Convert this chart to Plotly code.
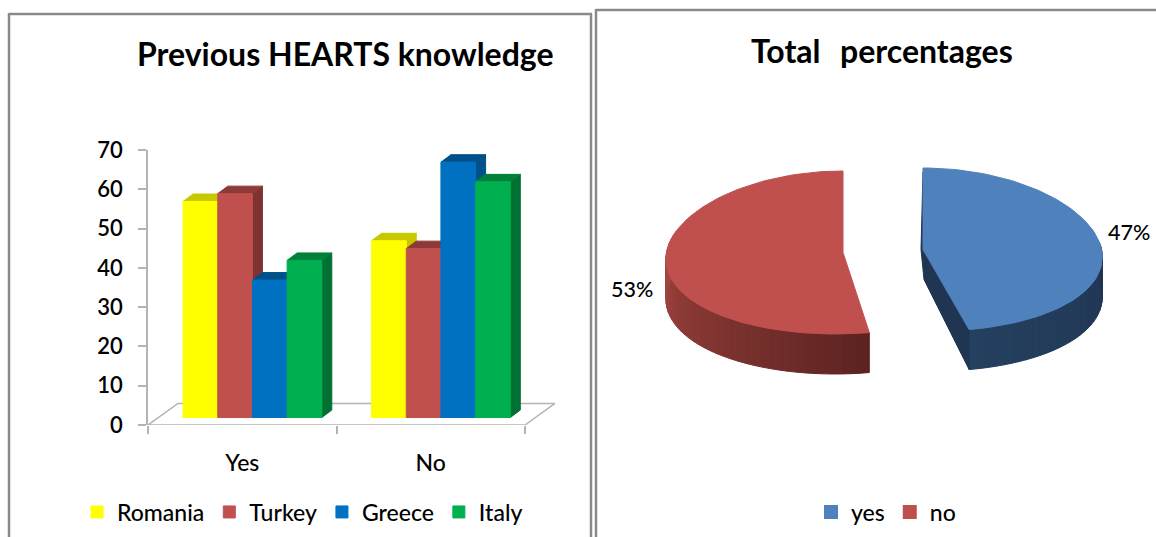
import math
import plotly.graph_objects as go

# Chart data
CATEGORIES = ["Yes", "No"]
COUNTRIES = ["Romania", "Turkey", "Greece", "Italy"]
ROMANIA = [55, 45]
TURKEY = [57, 43]
GREECE = [35, 65]
ITALY = [40, 60]
PIE_LABELS = ["yes", "no"]
PIE_SHARES = [47, 53]
Y_TICKS = [0, 10, 20, 30, 40, 50, 60, 70]

# Colours of each country: front, top, side
FRONT = ["#FFFF00", "#C0504D", "#0070C0", "#00B050"]
TOP = ["#C8C800", "#8C3A38", "#00508A", "#008038"]
SIDE = ["#C8C800", "#7F3230", "#00508A", "#007033"]
SERIES = [ROMANIA, TURKEY, GREECE, ITALY]

FONT = "Lato"
GREY = "#B4B4B4"
FRAME = "#8A8A8A"
W, H = 1156, 537

# Oblique projection of the bar chart, in axis units
BAR_W = 0.184
LIFT = 1.9          # bars stand this far above the front floor edge
SHIFT = 0.054       # and this far to the right
DEPTH_X = 0.053
DEPTH_Y = 1.9
FLOOR_X = 0.159
FLOOR_Y = 5.5
X_MAX = 2.2         # room for the back corner of the floor
PX_PER_GROUP = 188.5

fig = go.Figure()


def poly(xs, ys, color, xaxis="x", yaxis="y", line=None, width=1):
    fig.add_trace(go.Scatter(
        x=list(xs) + [xs[0]], y=list(ys) + [ys[0]], mode="lines", fill="toself",
        fillcolor=color, line=dict(color=line or color, width=width),
        xaxis=xaxis, yaxis=yaxis, showlegend=False, hoverinfo="skip",
        cliponaxis=False,
    ))


# Floor of the bar chart
poly([0, 2, 2 + FLOOR_X, FLOOR_X], [0, 0, FLOOR_Y, FLOOR_Y], "#FFFFFF", line=GREY, width=1.5)

# Top and side faces, painted left to right; the fronts sit on an overlaying axis
for g in range(len(CATEGORIES)):
    for s, values in enumerate(SERIES):
        left = g + 0.5 + SHIFT + (s - 2) * BAR_W
        right = left + BAR_W
        top = values[g] + LIFT
        poly([right, right + DEPTH_X, right + DEPTH_X, right],
             [LIFT, LIFT + DEPTH_Y, top + DEPTH_Y, top], SIDE[s])
        poly([left, left + DEPTH_X, right + DEPTH_X, right],
             [top, top + DEPTH_Y, top + DEPTH_Y, top], TOP[s])

for s, name in enumerate(COUNTRIES):
    fig.add_trace(go.Bar(
        x=[g + 0.5 for g in range(len(CATEGORIES))], y=SERIES[s], base=LIFT,
        width=BAR_W, offset=SHIFT + (s - 2) * BAR_W, name=name,
        marker=dict(color=FRONT[s], line=dict(width=1, color=FRONT[s])),
        xaxis="x", yaxis="y3", legend="legend",
    ))

# Tilted pie: coordinates are pixels from the left of its panel and from the top
PANEL_LEFT = 597
PIE_A = 172.5
PIE_B = 81.5
PERSPECTIVE = 0.06
PIE_DEPTH = 40
SLICE_CENTRES = [(923 - PANEL_LEFT, 249.5), (843 - PANEL_LEFT, 252.5)]
SLICE_LEAN = [12, -8]


def rim(theta, slice_i, drop=0):
    t = math.radians(theta)
    cx, cy = SLICE_CENTRES[slice_i]
    x = cx + PIE_A * math.sin(t) * (1 - PERSPECTIVE * math.cos(t))
    x += SLICE_LEAN[slice_i] * (1 - math.cos(t)) / 2
    return x, cy - PIE_B * math.cos(t) + drop


def mix(c1, c2, t):
    a = [int(c1[i:i + 2], 16) for i in (1, 3, 5)]
    b = [int(c2[i:i + 2], 16) for i in (1, 3, 5)]
    return "#" + "".join(f"{round(p + (q - p) * t):02X}" for p, q in zip(a, b))


def wall(slice_i, start, end, c1, c2, steps=30):
    for k in range(steps):
        a0 = start + (end - start) * k / steps
        a1 = start + (end - start) * (k + 1) / steps
        p0, p1 = rim(a0, slice_i), rim(a1, slice_i)
        q0, q1 = rim(a0, slice_i, PIE_DEPTH), rim(a1, slice_i, PIE_DEPTH)
        poly([p0[0], p1[0], q1[0], q0[0]], [p0[1], p1[1], q1[1], q0[1]],
             mix(c1, c2, k / steps), "x2", "y2")


split = 360 * PIE_SHARES[0] / sum(PIE_SHARES)

# Slice "yes": outer wall, inner wall, then its top
wall(0, split, 85, "#24405F", "#1F3552")
cx0, cy0 = SLICE_CENTRES[0]
vt = rim(split, 0)
vb = rim(split, 0, PIE_DEPTH)
poly([cx0, cx0 - 2, cx0 + 1, vb[0], vt[0]],
     [cy0 - PIE_B + 4, cy0, cy0 + 30, vb[1], vt[1]], "#1F3552", "x2", "y2")
arc = [rim(split * k / 80, 0) for k in range(81)]
poly([cx0] + [p[0] for p in arc], [cy0] + [p[1] for p in arc], "#4F81BD", "x2", "y2")

# Slice "no": shaded outer wall, then its top
wall(1, split, 285, "#5C2321", "#AC4A44", steps=40)
cx1, cy1 = SLICE_CENTRES[1]
arc = [rim(split + (360 - split) * k / 90, 1) for k in range(91)]
poly([cx1] + [p[0] for p in arc], [cy1] + [p[1] for p in arc], "#C0504D", "x2", "y2")

for name, color in zip(PIE_LABELS, ["#4F81BD", "#C0504D"]):
    fig.add_trace(go.Bar(x=[None], y=[None], name=name,
                         marker=dict(color=color, line=dict(width=2, color=color)),
                         xaxis="x2", yaxis="y2", legend="legend2"))

y_tick_font = dict(family=FONT, size=22, color="#000000", weight=600)
x_tick_font = dict(family=FONT, size=23, color="#000000", weight=500)
legend_font = dict(family=FONT, size=23, color="#000000", weight=500)
title_font = dict(family=FONT, size=32, color="#000000", weight=700)
share_font = dict(family=FONT, size=21.5, color="#000000", weight=500)

fig.update_layout(
    width=W, height=H, autosize=False,
    margin=dict(l=0, r=0, t=0, b=0, autoexpand=False),
    paper_bgcolor="#FFFFFF", plot_bgcolor="rgba(0,0,0,0)",
    barmode="overlay",
    font=dict(family=FONT, color="#000000"),
    xaxis=dict(
        domain=[148 / W, (148 + PX_PER_GROUP * X_MAX) / W], range=[0, X_MAX], anchor="y",
        tickmode="array", tickvals=[g + 0.5 for g in range(len(CATEGORIES))],
        ticktext=CATEGORIES, ticks="", showgrid=False, zeroline=False,
        showline=False, tickfont=x_tick_font, ticklabelstandoff=22,
        minor=dict(tickmode="array", tickvals=[0, 1, 2], ticks="outside",
                   ticklen=8, tickwidth=1.5, tickcolor=GREY, showgrid=False),
    ),
    yaxis=dict(
        domain=[1 - 425 / H, 1 - 150 / H], range=[0, 70], anchor="x",
        tickmode="array", tickvals=Y_TICKS, ticks="outside", ticklen=8,
        tickwidth=1.5, tickcolor=GREY, showgrid=False, zeroline=False,
        showline=True, linecolor=GREY, linewidth=1.5, tickfont=y_tick_font,
        ticklabelstandoff=11,
    ),
    yaxis3=dict(domain=[1 - 425 / H, 1 - 150 / H], range=[0, 70], anchor="x",
                overlaying="y", visible=False),
    xaxis2=dict(domain=[PANEL_LEFT / W, 1], range=[0, W - PANEL_LEFT], anchor="y2", visible=False),
    yaxis2=dict(domain=[0, 1], range=[H, 0], anchor="x2", visible=False),
    legend=dict(orientation="h", x=77 / W, xanchor="left", y=1 - 512 / H, yanchor="middle",
                font=legend_font, bgcolor="rgba(0,0,0,0)", traceorder="normal"),
    legend2=dict(orientation="h", x=811 / W, xanchor="left", y=1 - 512 / H, yanchor="middle",
                 font=legend_font, bgcolor="rgba(0,0,0,0)", traceorder="normal"),
    annotations=[
        dict(text="Previous HEARTS knowledge", x=345 / W, y=1 - 53 / H, xref="paper", yref="paper",
             showarrow=False, xanchor="center", yanchor="middle", font=title_font),
        dict(text="Total\u00a0\u2009 percentages", x=882 / W, y=1 - 51 / H, xref="paper", yref="paper",
             showarrow=False, xanchor="center", yanchor="middle", font=title_font),
        dict(text=f"{PIE_SHARES[0]}%", x=1129 / W, y=1 - 232 / H, xref="paper", yref="paper",
             showarrow=False, xanchor="center", yanchor="middle", font=share_font),
        dict(text=f"{PIE_SHARES[1]}%", x=632 / W, y=1 - 289 / H, xref="paper", yref="paper",
             showarrow=False, xanchor="center", yanchor="middle", font=share_font),
    ],
)

# Panel frames, given in pixels
for x0, y0, x1, y1 in [(9, 14, 592, 14), (9, 13, 9, H), (591, 14, 591, H),
                       (596, 10, W, 10), (596, 9, 596, H)]:
    fig.add_shape(type="line", xref="paper", yref="paper",
                  x0=x0 / W, x1=x1 / W, y0=1 - y0 / H, y1=1 - y1 / H,
                  line=dict(color=FRAME, width=2.5))

fig.write_html("out.html", config=dict(displayModeBar=False))
